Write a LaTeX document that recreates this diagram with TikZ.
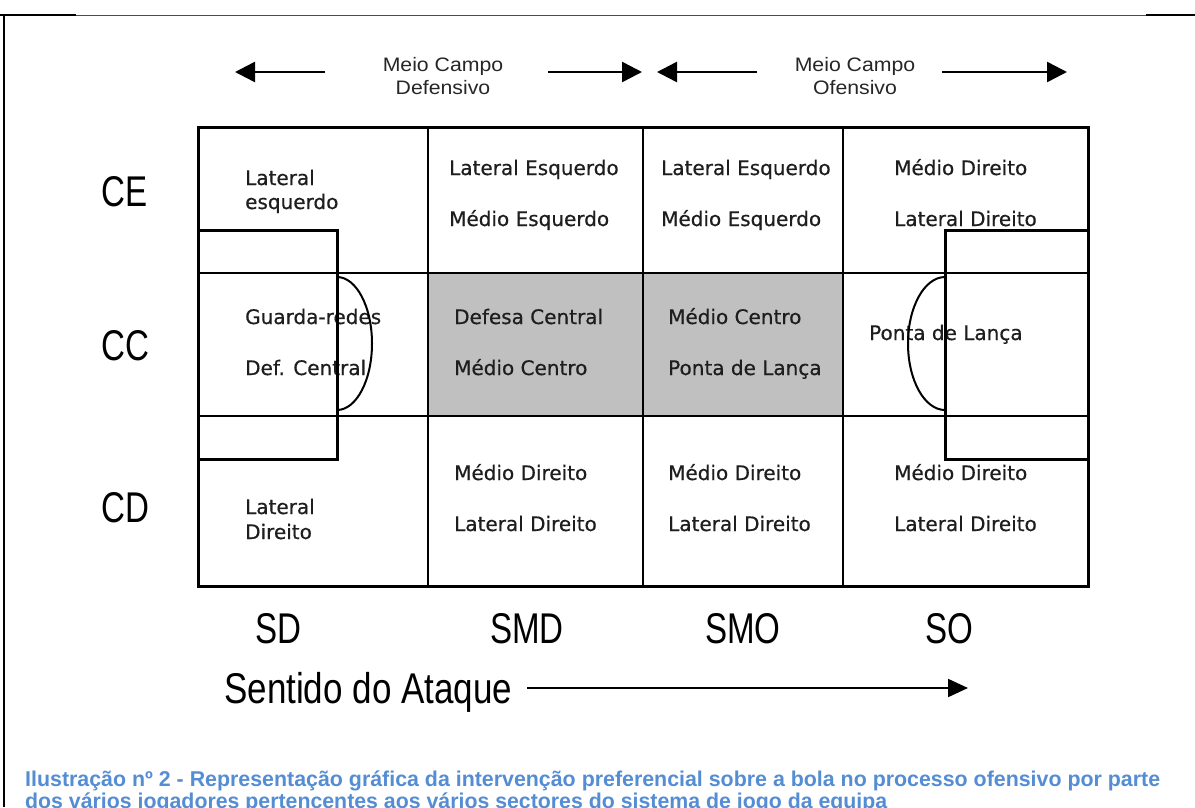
\documentclass[tikz,border=0pt]{standalone}
\usepackage{fontspec}
\setmainfont{DejaVu Sans}
\newfontfamily\cellfont[FakeBold=0.6]{DejaVu Sans}
\newfontfamily\labfont{Liberation Sans}
\usetikzlibrary{arrows.meta}
\definecolor{cellgray}{HTML}{C0C0C0}
\definecolor{captionblue}{HTML}{548DD4}
\definecolor{celltext}{HTML}{1E1E1E}
\newcommand\narr[1]{\scalebox{0.77}[1]{#1}}
\newcommand\wide[1]{\scalebox{1.09}[1]{#1}}
\begin{document}
\begin{tikzpicture}[x=1pt,y=-1pt,
  cell/.style={anchor=base west, inner sep=0pt, font=\cellfont\fontsize{20}{24}\selectfont, text=celltext},
  rowlab/.style={anchor=base west, inner sep=0pt, font=\labfont\fontsize{43}{48}\selectfont},
  toplab/.style={anchor=base, inner sep=0pt, font=\labfont\fontsize{19.5}{22}\selectfont, text=black!85},
  caption/.style={anchor=base west, inner sep=0pt, font=\labfont\bfseries\fontsize{21.4}{24}\selectfont, text=captionblue},
  thickline/.style={line width=3pt},
  thinline/.style={line width=1.5pt},
  arcline/.style={line width=2pt},
  arr/.style={line width=2.5pt, -{Triangle[length=20pt,width=20pt]}},
  botarr/.style={line width=2pt, -{Triangle[length=20pt,width=18pt]}},
]
\useasboundingbox (0,0) rectangle (1195,807);
\begin{scope}
\clip (0,0) rectangle (1195,807);
% frame
\draw[line width=1pt, black!70] (0,15) -- (1195,15);
\draw[line width=2.5pt] (0,15) -- (76,15);
\draw[line width=2.5pt] (1146,15) -- (1195,15);
\draw[line width=2pt] (4,14) -- (4,807);

% top labels and arrows
\node[toplab] (mcd1) at (443,71) {\wide{Meio Campo}};
\node[toplab] (mcd2) at (443,94) {\wide{Defensivo}};
\node[toplab] (mco1) at (855,71) {\wide{Meio Campo}};
\node[toplab] (mco2) at (855,94) {\wide{Ofensivo}};
\coordinate (a1s) at (325,72); \coordinate (a1e) at (235,72);
\coordinate (a2s) at (548,72); \coordinate (a2e) at (642,72);
\coordinate (a3s) at (757,72); \coordinate (a3e) at (657,72);
\coordinate (a4s) at (942,72); \coordinate (a4e) at (1067,72);
\draw[arr] (a1s) -- (a1e);
\draw[arr] (a2s) -- (a2e);
\draw[arr] (a3s) -- (a3e);
\draw[arr] (a4s) -- (a4e);

% grid
\fill[cellgray] (428,273) rectangle (843,416);
\draw[thinline] (428,127) -- (428,586);
\draw[thinline] (643,127) -- (643,586);
\draw[thinline] (843,127) -- (843,586);
\draw[thinline] (198,273) -- (1088,273);
\draw[thinline] (198,416) -- (1088,416);

% cell texts
\node[cell] (t11a) at (245,185) {Lateral};
\node[cell] (t11b) at (245,209) {esquerdo};
\node[cell] (t12a) at (449,175) {Lateral Esquerdo};
\node[cell] (t12b) at (449,226) {Médio Esquerdo};
\node[cell] (t13a) at (661,175) {Lateral Esquerdo};
\node[cell] (t13b) at (661,226) {Médio Esquerdo};
\node[cell] (t14a) at (894,175) {Médio Direito};
\node[cell] (t14b) at (894,226) {Lateral Direito};
\node[cell] (t21a) at (245,324) {Guarda-redes};
\node[cell] (t21b) at (245,375) {Def. Central};
\node[cell] (t22a) at (454,324) {Defesa Central};
\node[cell] (t22b) at (454,375) {Médio Centro};
\node[cell] (t23a) at (668,324) {Médio Centro};
\node[cell] (t23b) at (668,375) {Ponta de Lança};
\node[cell] (t24a) at (869,340) {Ponta de Lança};
\node[cell] (t31a) at (245,514) {Lateral};
\node[cell] (t31b) at (245,539) {Direito};
\node[cell] (t32a) at (454,480) {Médio Direito};
\node[cell] (t32b) at (454,531) {Lateral Direito};
\node[cell] (t33a) at (668,480) {Médio Direito};
\node[cell] (t33b) at (668,531) {Lateral Direito};
\node[cell] (t34a) at (894,480) {Médio Direito};
\node[cell] (t34b) at (894,531) {Lateral Direito};

% penalty areas
\draw[thickline] (198,230) -- (337,230) -- (337,459) -- (198,459);
\draw[thickline] (1088,230) -- (945,230) -- (945,459) -- (1088,459);
\draw[arcline] (337,277) arc[start angle=90, end angle=-90, x radius=35pt, y radius=66.5pt];
\draw[arcline] (945,277) arc[start angle=90, end angle=270, x radius=37pt, y radius=66.5pt];

% outer border
\draw[thickline] (198,127) rectangle (1088,586);

% row labels
\node[rowlab] (ce) at (101,206) {\narr{CE}};
\node[rowlab] (cc) at (101,360) {\narr{CC}};
\node[rowlab] (cd) at (101,522) {\narr{CD}};
% column labels
\node[rowlab] (sd) at (255,643) {\narr{SD}};
\node[rowlab] (smd) at (490,643) {\narr{SMD}};
\node[rowlab] (smo) at (705,643) {\narr{SMO}};
\node[rowlab] (so) at (925,643) {\narr{SO}};

% attack direction
\node[rowlab] (sent) at (224,703) {\resizebox{288pt}{\height}{Sentido do Ataque}};
\coordinate (bs) at (527,688); \coordinate (be) at (968,688);
\draw[botarr] (bs) -- (be);

% caption
\node[caption] (cap1) at (25,786) {\resizebox{1135pt}{\height}{Ilustração nº 2 - Representação gráfica da intervenção preferencial sobre a bola no processo ofensivo por parte}};
\node[caption] (cap2) at (25,808.5) {\resizebox{862pt}{\height}{dos vários jogadores pertencentes aos vários sectores do sistema de jogo da equipa}};
\end{scope}
\end{tikzpicture}
\end{document}
